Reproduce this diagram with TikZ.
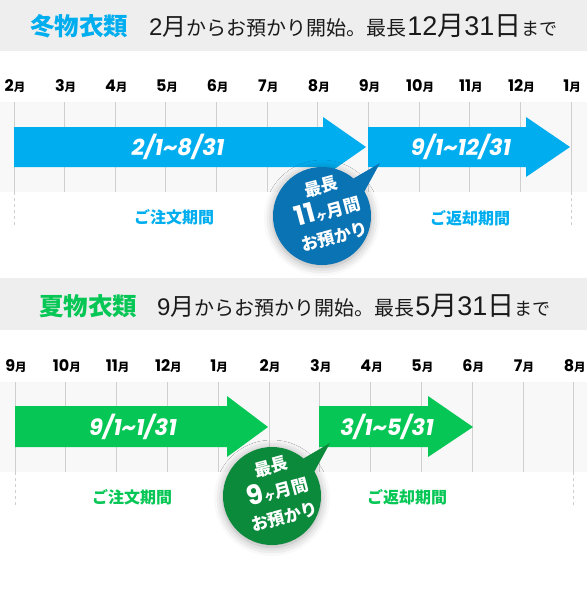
\documentclass[tikz,border=0pt]{standalone}
\usepackage{fontspec}
\setmainfont{Noto Sans CJK JP}
\newfontfamily\jp{Noto Sans CJK JP}
\newfontfamily\pop{Poppins}
\newfontfamily\lib{Liberation Sans}
\usetikzlibrary{shadows.blur}
\definecolor{wblue}{HTML}{00AEEF}
\definecolor{wbadge}{HTML}{0A73B4}
\definecolor{sgreen}{HTML}{06C755}
\definecolor{sbadge}{HTML}{0B8A3C}
\definecolor{bandgray}{HTML}{EEEEEE}
\definecolor{gridfill}{HTML}{F8F8F8}
\definecolor{gridline}{HTML}{CFCFCF}
\definecolor{htext}{HTML}{1A1A1A}
\newcommand{\fs}[1]{\fontsize{#1}{#1}\selectfont}
\newcommand{\mon}[1]{{\pop\bfseries\fs{16}#1}{\jp\bfseries\fs{11.5}月}}
\newcommand{\tld}{\symbol{126}}
\newcommand{\dg}[1]{{\lib #1}}
\begin{document}
\begin{tikzpicture}[x=1pt,y=-1pt,
  band/.style={fill=bandgray},
  gline/.style={draw=gridline, line width=1pt},
  dline/.style={draw=gridline, line width=1pt, dash pattern=on 3pt off 3pt},
  hseg/.style={anchor=base west, inner sep=0pt, text=htext},
  monlab/.style={inner sep=0pt, anchor=center},
  datetxt/.style={text=white, inner sep=0pt, font=\pop\bfseries\itshape\fs{22.5}},
  perlab/.style={inner sep=0pt, font=\jp\bfseries\fs{16}},
  badgetxt/.style={text=white, inner sep=0pt, align=center, rotate=15, font=\jp\bfseries\fontsize{17}{26}\selectfont},
  bshadow/.style={blur shadow={shadow xshift=0pt, shadow yshift=-2pt, shadow blur radius=9pt, shadow opacity=35}}
]
\useasboundingbox (0,0) rectangle (587,600);

% ---------- winter section ----------
\fill[band] (0,0) rectangle (587,51);
\node[hseg, text=wblue, font=\jp\bfseries\fs{24.5}] (h1a) at (30,35) {冬物衣類};
\node[hseg, font=\jp\fs{24}] (h1b) at (149,35) {\dg{2}月};
\node[hseg, font=\jp\fs{20}] (h1c) at (h1b.base east) {からお預かり開始。最長};
\node[hseg, font=\jp\fs{27}] (h1d) at (h1c.base east) {\dg{12}月\dg{31}日};
\node[hseg, font=\jp\fs{18}] (h1e) at (h1d.base east) {まで};

\fill[gridfill] (0,102) rectangle (587,192);
\foreach \i in {0,...,11} { \draw[gline] ({14+50.65*\i},102) -- ({14+50.65*\i},192); }
\foreach \m [count=\i from 0] in {2,3,4,5,6,7,8,9,10,11,12,1}
  { \node[monlab] (wm\i) at ({15+50.65*\i},86) {\mon{\m}}; }
\coordinate (wd1a) at (14,192); \coordinate (wd1b) at (14,228);
\coordinate (wd2a) at (571.2,192); \coordinate (wd2b) at (571.2,228);
\draw[dline] (wd1a) -- (wd1b);
\draw[dline] (wd2a) -- (wd2b);

\fill[wblue] (14,127) -- (323,127) -- (323,117) -- (366,147) -- (323,177) -- (323,167) -- (14,167) -- cycle;
\node[datetxt] (wa1) at (178,147) {2/1\tld 8/31};
\fill[wblue] (368,127) -- (526,127) -- (526,117) -- (570,147) -- (526,177) -- (526,167) -- (368,167) -- cycle;
\node[datetxt] (wa2) at (461,147) {9/1\tld 12/31};

\node[perlab, text=wblue] (wp1) at (174,217) {ご注文期間};
\node[perlab, text=wblue] (wp2) at (470,218) {ご返却期間};

\fill[wbadge, bshadow] (322,216) circle[radius=49];
\fill[wbadge] (353.5,178.5) -- (380,163) -- (364.4,191.5) -- cycle;
\node[badgetxt] (wb) at (328,212) {最長\\{\pop\bfseries\fs{27}11}{\fs{12}ヶ}月間\\お預かり};

% ---------- summer section ----------
\fill[band] (0,278) rectangle (587,330);
\node[hseg, text=sgreen, font=\jp\bfseries\fs{24.5}] (h2a) at (39,315) {夏物衣類};
\node[hseg, font=\jp\fs{24}] (h2b) at (157,315) {\dg{9}月};
\node[hseg, font=\jp\fs{20}] (h2c) at (h2b.base east) {からお預かり開始。最長};
\node[hseg, font=\jp\fs{27}] (h2d) at (h2c.base east) {\dg{5}月\dg{31}日};
\node[hseg, font=\jp\fs{18}] (h2e) at (h2d.base east) {まで};

\fill[gridfill] (0,382) rectangle (587,472);
\foreach \i in {0,...,11} { \draw[gline] ({15+50.8*\i},382) -- ({15+50.8*\i},472); }
\foreach \m [count=\i from 0] in {9,10,11,12,1,2,3,4,5,6,7,8}
  { \node[monlab] (sm\i) at ({16+50.8*\i},366) {\mon{\m}}; }
\coordinate (sd1a) at (15,472); \coordinate (sd1b) at (15,508);
\coordinate (sd2a) at (573.8,472); \coordinate (sd2b) at (573.8,508);
\draw[dline] (sd1a) -- (sd1b);
\draw[dline] (sd2a) -- (sd2b);

\fill[sgreen] (15,406) -- (227,406) -- (227,396) -- (268,427) -- (227,457) -- (227,447) -- (15,447) -- cycle;
\node[datetxt] (sa1) at (133,427) {9/1\tld 1/31};
\fill[sgreen] (319,406) -- (428,406) -- (428,396) -- (473,427) -- (428,457) -- (428,447) -- (319,447) -- cycle;
\node[datetxt] (sa2) at (387,427) {3/1\tld 5/31};

\node[perlab, text=sgreen] (sp1) at (132,497) {ご注文期間};
\node[perlab, text=sgreen] (sp2) at (407,497) {ご返却期間};

\fill[sbadge, bshadow] (272,496) circle[radius=49];
\fill[sbadge] (303.5,458.5) -- (330,443) -- (314.4,471.5) -- cycle;
\node[badgetxt] (sb) at (278,492) {最長\\{\pop\bfseries\fs{27}9}{\fs{12}ヶ}月間\\お預かり};
\end{tikzpicture}
\end{document}
